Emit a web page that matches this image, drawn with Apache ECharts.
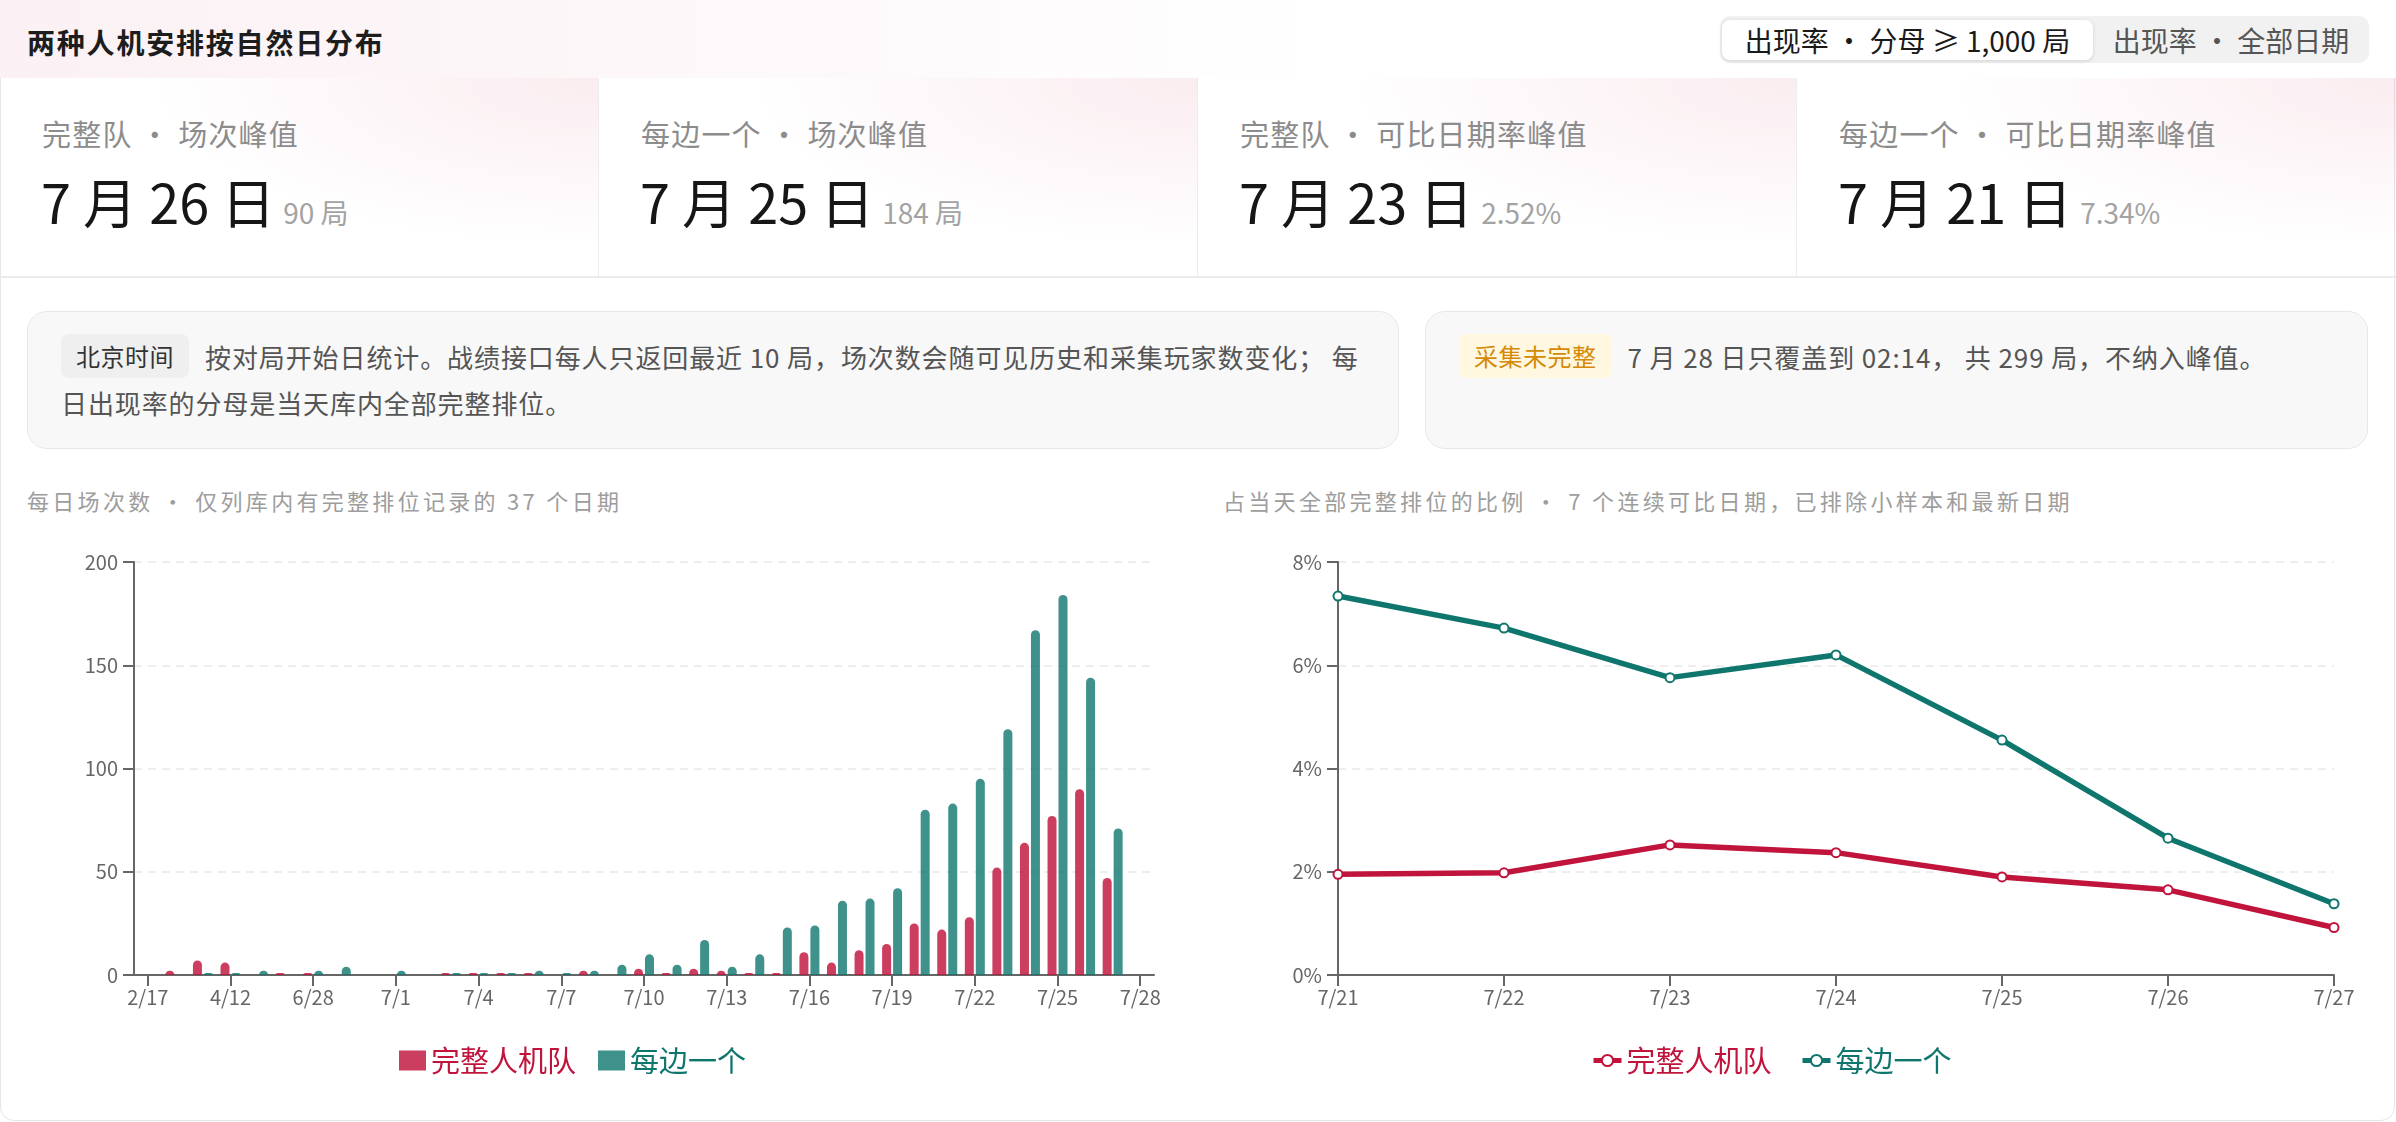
<!DOCTYPE html>
<html>
<head>
<meta charset="utf-8">
<script src="https://cdn.jsdelivr.net/npm/echarts@6/dist/echarts.min.js"></script>
<style>
  html, body { margin: 0; padding: 0; background: #ffffff; }
  body { width: 2396px; height: 1122px; position: relative; overflow: hidden;
         font-family: "Noto Sans CJK SC", "Noto Sans", sans-serif; }
  .abs { position: absolute; }
  #card { left: 0; top: 0; width: 2393px; height: 1119px; border: 1.5px solid #e6e6e6; border-radius: 14px; overflow: hidden; background: #fff; }
  #header { left: 0; top: 0; width: 2396px; height: 78px; background: linear-gradient(90deg, #fbf1f4 0%, #fdf8f9 30%, #ffffff 55%); }
  #title { left: 27px; top: 22px; font-size: 28px; line-height: 40px; font-weight: 700; color: #1d1d1d; letter-spacing: 1.8px; }
  #seg { left: 1720px; top: 16px; width: 649px; height: 47px; background: #f1f1f1; border-radius: 10px; }
  #segOn { left: 1722px; top: 20px; width: 371px; height: 40px; background: #fff; border-radius: 8px; box-shadow: 0 1px 4px rgba(0,0,0,0.13);
           font-size: 28px; line-height: 40px; text-align: center; color: #1a1a1a; white-space: nowrap; }
  #segOff { left: 2097px; top: 20px; width: 268px; height: 40px; font-size: 28px; line-height: 40px; text-align: center; color: #555; white-space: nowrap; }
  .stat { top: 78px; width: 599px; height: 199px; background: radial-gradient(ellipse 75% 85% at 100% 0%, rgba(200,40,80,0.085), rgba(200,40,80,0.0) 100%); border-right: 1.5px solid #ececec; box-sizing: border-box; }
  .statLabel { position: absolute; left: 42px; top: 37px; font-size: 29px; line-height: 36px; color: #8c8c8c; letter-spacing: 1.2px; white-space: nowrap; }
  .statVal { position: absolute; left: 41px; top: 88px; font-size: 54px; line-height: 70px; color: #161616; white-space: nowrap; }
  .statVal .sub { font-size: 28px; color: #a3a3a3; margin-left: 8px; }
  #rowLine { left: 0; top: 276px; width: 2396px; height: 2px; background: #ebebeb; }
  .note { top: 311px; height: 138px; background: #f8f8f8; border: 1.5px solid #e7e7e7; border-radius: 20px; box-sizing: border-box; }
  .noteText { position: absolute; left: 33px; top: 22px; font-size: 26px; line-height: 46px; color: #555; white-space: nowrap; letter-spacing: 0.9px; }
  .badge { display: inline-block; height: 44px; line-height: 44px; padding: 0 15px; border-radius: 8px; font-size: 24px; margin-right: 16px; vertical-align: top; letter-spacing: 0.5px; }
  .sub-title { top: 482px; font-size: 22px; line-height: 36px; color: #9d9d9d; letter-spacing: 3.3px; white-space: nowrap; }
  #chart { left: 0; top: 0; width: 2396px; height: 1122px; }
</style>
</head>
<body>
<div id="card" class="abs"></div>
<div id="header" class="abs"></div>
<div id="title" class="abs">两种人机安排按自然日分布</div>
<div id="seg" class="abs"></div>
<div id="segOn" class="abs">出现率 · 分母 ≥ 1,000 局</div>
<div id="segOff" class="abs">出现率 · 全部日期</div>

<div class="abs stat" style="left:0px"><div class="statLabel">完整队 · 场次峰值</div><div class="statVal">7 月 26 日<span class="sub">90 局</span></div></div>
<div class="abs stat" style="left:599px"><div class="statLabel">每边一个 · 场次峰值</div><div class="statVal">7 月 25 日<span class="sub">184 局</span></div></div>
<div class="abs stat" style="left:1198px"><div class="statLabel">完整队 · 可比日期率峰值</div><div class="statVal">7 月 23 日<span class="sub">2.52%</span></div></div>
<div class="abs stat" style="left:1797px; border-right:none;"><div class="statLabel">每边一个 · 可比日期率峰值</div><div class="statVal">7 月 21 日<span class="sub">7.34%</span></div></div>
<div id="rowLine" class="abs"></div>

<div class="abs note" style="left:27px; width:1372px;">
  <div class="noteText"><span class="badge" style="background:#efefef;color:#333;">北京时间</span>按对局开始日统计。战绩接口每人只返回最近 10 局，场次数会随可见历史和采集玩家数变化； 每<br>日出现率的分母是当天库内全部完整排位。</div>
</div>
<div class="abs note" style="left:1425px; width:943px;">
  <div class="noteText"><span class="badge" style="background:#fff7e0;color:#d48a06;">采集未完整</span>7 月 28 日只覆盖到 02:14， 共 299 局，不纳入峰值。</div>
</div>

<div class="abs sub-title" style="left:27px;">每日场次数 · 仅列库内有完整排位记录的 37 个日期</div>
<div class="abs sub-title" style="left:1223px;">占当天全部完整排位的比例 · 7 个连续可比日期，已排除小样本和最新日期</div>

<div id="chart" class="abs"></div>

<script>
// ---- data ----
const barDates = ['2/17','3/3','3/24','4/12','5/10','6/7','6/28','6/29','6/30',
  '7/1','7/2','7/3','7/4','7/5','7/6','7/7','7/8','7/9','7/10','7/11','7/12','7/13','7/14',
  '7/15','7/16','7/17','7/18','7/19','7/20','7/21','7/22','7/23','7/24','7/25','7/26','7/27','7/28'];
const fullTeamCount = [0,2,7,6,0,1,1,0,0,0,0,1,1,1,1,0,2,0,3,1,3,2,1,1,11,6,12,15,25,22,28,52,64,77,90,47,0];
const eachSideCount = [0,0,1,1,2,0,2,4,0,2,0,1,1,1,2,1,2,5,10,5,17,4,10,23,24,36,37,42,80,83,95,119,167,184,144,71,0];
const countTicks = [0, 50, 100, 150, 200];

const rateDates = ['7/21','7/22','7/23','7/24','7/25','7/26','7/27'];
const fullTeamRate = [1.95, 1.98, 2.52, 2.37, 1.90, 1.65, 0.92];
const eachSideRate = [7.34, 6.72, 5.76, 6.20, 4.55, 2.65, 1.38];
const rateTicks = [0, 2, 4, 6, 8];

const seriesNames = ['完整人机队', '每边一个'];
const RED = '#c0143c';
const TEAL = '#0f766e';
const FONT = 'Noto Sans CJK SC';

const chart = echarts.init(document.getElementById('chart'), null, { renderer: 'canvas' });
const axisLine = { show: true, lineStyle: { color: '#666', width: 2 } };
const axisTick = { show: true, length: 11, lineStyle: { color: '#666', width: 2 } };
const splitLine = { show: true, lineStyle: { color: '#e9e9e9', width: 1.5, type: [8, 6] } };
const labelStyle = { color: '#666', fontSize: 20, fontFamily: FONT };

chart.setOption({
  animation: false,
  textStyle: { fontFamily: FONT },
  grid: [
    { left: 134, top: 562, width: 1020, height: 413 },
    { left: 1338, top: 562, width: 996, height: 413 }
  ],
  legend: [
    { left: 394, top: 1041, itemWidth: 27, itemHeight: 20, itemGap: 22, icon: 'rect',
      textStyle: { fontSize: 29, fontFamily: FONT },
      data: [{ name: seriesNames[0], textStyle: { color: RED } }, { name: seriesNames[1], textStyle: { color: TEAL } }] },
    { left: 1586, top: 1041, itemWidth: 28, itemHeight: 14, itemGap: 22,
      textStyle: { fontSize: 29, fontFamily: FONT },
      lineStyle: { width: 5 },
      itemStyle: { borderWidth: 4 },
      data: [{ name: seriesNames[0] + ' ', textStyle: { color: RED } }, { name: seriesNames[1] + ' ', textStyle: { color: TEAL } }] }
  ],
  xAxis: [
    { type: 'category', gridIndex: 0, data: barDates, boundaryGap: true,
      axisLine: axisLine, axisTick: Object.assign({ alignWithLabel: true, interval: 2 }, axisTick),
      axisLabel: Object.assign({ interval: 2, margin: 12 }, labelStyle) },
    { type: 'category', gridIndex: 1, data: rateDates, boundaryGap: false,
      axisLine: axisLine, axisTick: axisTick,
      axisLabel: Object.assign({ margin: 12 }, labelStyle) }
  ],
  yAxis: [
    { type: 'value', gridIndex: 0, min: countTicks[0], max: countTicks[countTicks.length - 1], interval: countTicks[1] - countTicks[0],
      axisLine: axisLine, axisTick: axisTick, splitLine: splitLine,
      axisLabel: Object.assign({ margin: 16 }, labelStyle) },
    { type: 'value', gridIndex: 1, min: rateTicks[0], max: rateTicks[rateTicks.length - 1], interval: rateTicks[1] - rateTicks[0],
      axisLine: axisLine, axisTick: axisTick, splitLine: splitLine,
      axisLabel: Object.assign({ margin: 16, formatter: '{value}%' }, labelStyle) }
  ],
  series: [
    { name: seriesNames[0], type: 'bar', xAxisIndex: 0, yAxisIndex: 0, data: fullTeamCount,
      barWidth: 9, barGap: '22%', itemStyle: { color: RED, opacity: 0.82, borderRadius: [5, 5, 0, 0] } },
    { name: seriesNames[1], type: 'bar', xAxisIndex: 0, yAxisIndex: 0, data: eachSideCount,
      barWidth: 9, barGap: '22%', itemStyle: { color: TEAL, opacity: 0.8, borderRadius: [5, 5, 0, 0] } },
    { name: seriesNames[0] + ' ', type: 'line', xAxisIndex: 1, yAxisIndex: 1, data: fullTeamRate,
      symbol: 'emptyCircle', symbolSize: 9, lineStyle: { color: RED, width: 5.5 },
      itemStyle: { color: RED, borderColor: RED, borderWidth: 4 } },
    { name: seriesNames[1] + ' ', type: 'line', xAxisIndex: 1, yAxisIndex: 1, data: eachSideRate,
      symbol: 'emptyCircle', symbolSize: 9, lineStyle: { color: TEAL, width: 5.5 },
      itemStyle: { color: TEAL, borderColor: TEAL, borderWidth: 4 } }
  ]
});
</script>
</body>
</html>
